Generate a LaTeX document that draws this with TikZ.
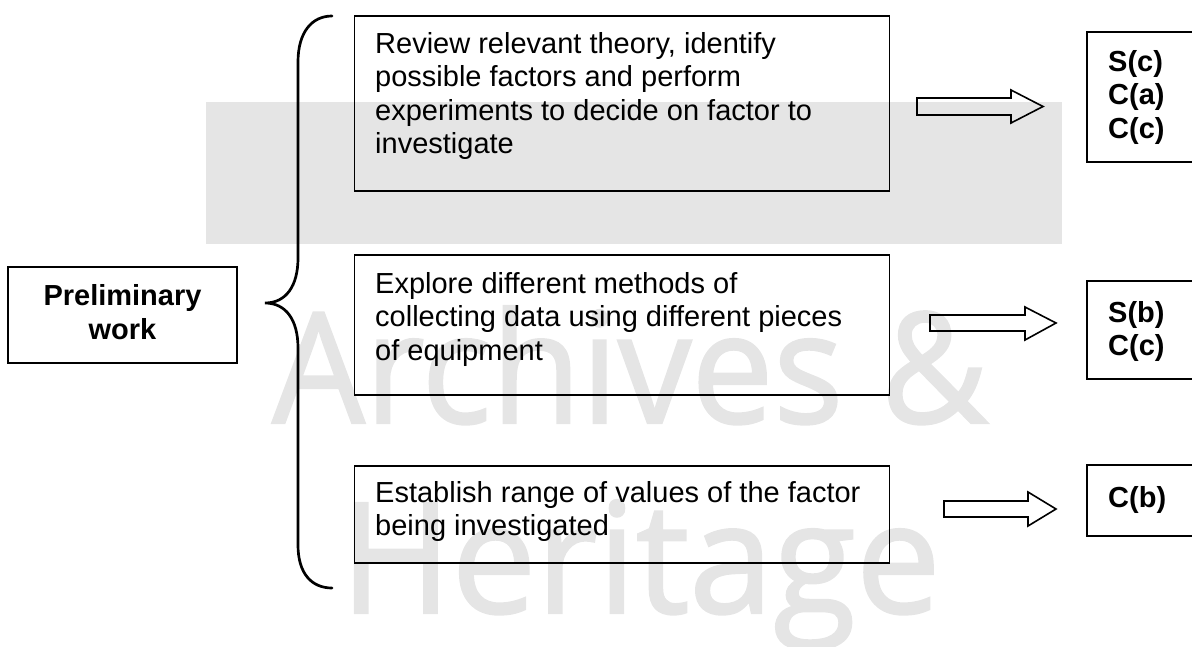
\documentclass[tikz,border=0pt]{standalone}
\usepackage{fontspec}
\setmainfont{Liberation Sans}
\newfontfamily\wmfont{Open Sans}[FakeBold=1.5]
\definecolor{wm}{RGB}{229,229,229}
\begin{document}
\begin{tikzpicture}[x=1pt,y=-1pt,
  box/.style={draw=black, line width=1.6pt, inner sep=0pt, fill=none},
  txt/.style={inner sep=0pt, anchor=base west, font=\fontsize{29}{33.5}\selectfont},
  lbl/.style={inner sep=0pt, anchor=base west, font=\fontsize{29}{33.5}\selectfont\bfseries},
  wmtext/.style={inner sep=0pt, anchor=base west, text=wm, font=\fontsize{154}{160}\selectfont\wmfont},
  blockarrow/.style={draw=black, line width=1.6pt, line join=miter, fill=none},
  bracestyle/.style={draw=black, line width=2.7pt, line cap=round}]
\useasboundingbox (0,0) rectangle (1192,646);
\clip (0,0) rectangle (1192,646);
% watermark
\fill[wm] (206,102) rectangle (1062,244);
\node[wmtext] (wmA) at (272,423) {\scalebox{0.95}[1]{Archives \&}};
\node[wmtext] (wmH) at (340,613) {\scalebox{0.98}[1]{Heritage}};
% left box
\node[box, minimum width=229pt, minimum height=96pt] (pre) at (122.5,315) {};
\node[inner sep=0pt, anchor=base, font=\fontsize{29}{34}\selectfont\bfseries] (pretxt) at (122.5,305)
  {\begin{tabular}[t]{@{}c@{}}Preliminary\\work\end{tabular}};
% brace
\coordinate (bracetip) at (265,303);
\draw[bracestyle] (332,16) .. controls (312,16) and (298,32) .. (298,62) -- (298,258)
  .. controls (298,286) and (286,303) .. (bracetip)
  .. controls (286,303) and (298,320) .. (298,348) -- (298,545)
  .. controls (298,574) and (312,588) .. (332,588);
% middle boxes
\node[box, minimum width=535pt, minimum height=175pt] (b1) at (622,103.5) {};
\node[txt] (t1) at (375,53) {\begin{tabular}[t]{@{}l@{}}Review relevant theory, identify\\possible factors and perform\\experiments to decide on factor to\\investigate\end{tabular}};
\node[box, minimum width=535pt, minimum height=140pt] (b2) at (622,325) {};
\node[txt] (t2) at (375,293) {\begin{tabular}[t]{@{}l@{}}Explore different methods of\\collecting data using different pieces\\of equipment\end{tabular}};
\node[box, minimum width=535pt, minimum height=97pt] (b3) at (622,514.5) {};
\node[txt] (t3) at (375,502) {\begin{tabular}[t]{@{}l@{}}Establish range of values of the factor\\being investigated\end{tabular}};
% right boxes (cut by the right edge)
\node[box, minimum width=130pt, minimum height=130pt] (r1) at (1152,97) {};
\node[lbl] (l1) at (1108,71) {\begin{tabular}[t]{@{}l@{}}S(c)\\C(a)\\C(c)\end{tabular}};
\node[box, minimum width=130pt, minimum height=98pt] (r2) at (1152,330) {};
\node[lbl] (l2) at (1108,322) {\begin{tabular}[t]{@{}l@{}}S(b)\\C(c)\end{tabular}};
\node[box, minimum width=130pt, minimum height=71pt] (r3) at (1152,500.5) {};
\node[lbl] (l3) at (1108,507) {C(b)};
% block arrows
\draw[blockarrow] (917,98) -- (1011,98) -- (1011,90) -- (1043,106.5) -- (1011,123) -- (1011,115) -- (917,115) -- cycle;
\draw[blockarrow] (930,315) -- (1025,315) -- (1025,307) -- (1056,323) -- (1025,340) -- (1025,331) -- (930,331) -- cycle;
\draw[blockarrow] (944,501) -- (1028,501) -- (1028,492) -- (1056,509) -- (1028,526) -- (1028,517) -- (944,517) -- cycle;
\end{tikzpicture}
\end{document}
